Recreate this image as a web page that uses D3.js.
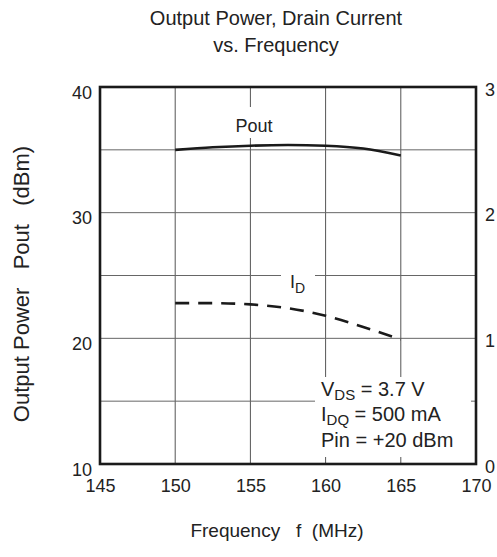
<!DOCTYPE html>
<html>
<head>
<meta charset="utf-8">
<script src="https://cdn.jsdelivr.net/npm/d3@7"></script>
<style>
  html, body { margin: 0; padding: 0; background: #fff; }
  text { font-family: "Liberation Sans", Arial, Helvetica, sans-serif; fill: #222; }
</style>
</head>
<body>
<svg id="chart" width="497" height="557"></svg>
<script>
// ---- data ----
const freq = [150, 152.5, 155, 157.5, 160, 162.5, 165];
const pout = [35.0, 35.2, 35.33, 35.38, 35.32, 35.1, 34.55];
const drainCurrent = [1.28, 1.28, 1.27, 1.24, 1.18, 1.09, 0.99];
const xTicks = [145, 150, 155, 160, 165, 170];
const yLeftTicks = [10, 20, 30, 40];
const yRightTicks = [0, 1, 2, 3];
const xGrid = [150, 155, 160, 165];
const yGrid = [15, 20, 25, 30, 35];

const svg = d3.select("#chart");
const L = 100, R = 476, T = 87, B = 464;

const x = d3.scaleLinear().domain([145, 170]).range([L, R]);
const yL = d3.scaleLinear().domain([10, 40]).range([B, T]);
const yR = d3.scaleLinear().domain([0, 3]).range([B, T]);

// grid
const g = svg.append("g");
g.selectAll(".vg").data(xGrid).join("line")
  .attr("x1", d => x(d)).attr("x2", d => x(d)).attr("y1", T).attr("y2", B)
  .attr("stroke", "#555").attr("stroke-width", 1);
g.selectAll(".hg").data(yGrid).join("line")
  .attr("y1", d => yL(d)).attr("y2", d => yL(d)).attr("x1", L).attr("x2", R)
  .attr("stroke", "#666").attr("stroke-width", 1);

// white boxes behind labels
svg.append("rect").attr("x", 228).attr("y", 107).attr("width", 54).attr("height", 31).attr("fill", "#fff");
svg.append("rect").attr("x", 281).attr("y", 264).attr("width", 34).attr("height", 32).attr("fill", "#fff");
svg.append("rect").attr("x", 315).attr("y", 377).attr("width", 156).attr("height", 80).attr("fill", "#fff");

// lines
const linePout = d3.line().x((d, i) => x(freq[i])).y(d => yL(d)).curve(d3.curveMonotoneX);
const lineId = d3.line().x((d, i) => x(freq[i])).y(d => yR(d)).curve(d3.curveMonotoneX);
svg.append("path").attr("d", linePout(pout)).attr("fill", "none")
  .attr("stroke", "#1a1a1a").attr("stroke-width", 2.6);
svg.append("path").attr("d", lineId(drainCurrent)).attr("fill", "none")
  .attr("stroke", "#1a1a1a").attr("stroke-width", 2.6).attr("stroke-dasharray", "14,9");

// frame
svg.append("rect").attr("x", L).attr("y", T).attr("width", R - L).attr("height", B - T)
  .attr("fill", "none").attr("stroke", "#1a1a1a").attr("stroke-width", 2.6);

// axes (labels only)
const xAxis = svg.append("g").attr("transform", `translate(0,${B + 15})`)
  .call(d3.axisBottom(x).tickValues(xTicks).tickSize(0).tickPadding(0).tickFormat(d3.format("d")));
const yAxisL = svg.append("g").attr("transform", `translate(${L - 8},0)`)
  .call(d3.axisLeft(yL).tickValues(yLeftTicks).tickSize(0).tickPadding(0).tickFormat(d3.format("d")));
const yAxisR = svg.append("g").attr("transform", `translate(${R + 9},0)`)
  .call(d3.axisRight(yR).tickValues(yRightTicks).tickSize(0).tickPadding(0).tickFormat(d3.format("d")));
[xAxis, yAxisL, yAxisR].forEach(a => {
  a.select(".domain").remove();
  a.selectAll("text").attr("font-size", 18).attr("font-family", "Liberation Sans, Arial, sans-serif").attr("fill", "#222");
});
yAxisL.selectAll("text").attr("dy", "0.62em");
yAxisR.selectAll("text").attr("dy", "0.45em");

// titles
const title = svg.append("text").attr("text-anchor", "middle").attr("font-size", 20);
title.append("tspan").attr("x", 276).attr("y", 25).text("Output Power, Drain Current");
title.append("tspan").attr("x", 276).attr("y", 52).text("vs. Frequency");

svg.append("text").attr("x", 277).attr("y", 537).attr("text-anchor", "middle")
  .attr("font-size", 19).style("white-space", "pre").text("Frequency   f  (MHz)");

svg.append("text").attr("transform", "translate(29,284) rotate(-90)").attr("text-anchor", "middle")
  .attr("font-size", 22).style("white-space", "pre").text("Output Power   Pout   (dBm)");

// series labels
svg.append("text").attr("x", 254).attr("y", 132).attr("text-anchor", "middle").attr("font-size", 18).text("Pout");
const idl = svg.append("text").attr("x", 290).attr("y", 288).attr("font-size", 18);
idl.append("tspan").text("I");
idl.append("tspan").attr("font-size", 14).attr("dy", 5).text("D");

// annotation
const ann = svg.append("g");
function sub(y, main, s, rest) {
  const t = ann.append("text").attr("x", 321).attr("y", y).attr("font-size", 20);
  t.append("tspan").text(main);
  if (s) {
    t.append("tspan").attr("font-size", 15).attr("dy", 4).text(s);
    t.append("tspan").attr("dy", -4).text(rest);
  }
}
sub(396, "V", "DS", " = 3.7 V");
sub(421, "I", "DQ", " = 500 mA");
sub(447, "Pin = +20 dBm");
</script>
</body>
</html>
